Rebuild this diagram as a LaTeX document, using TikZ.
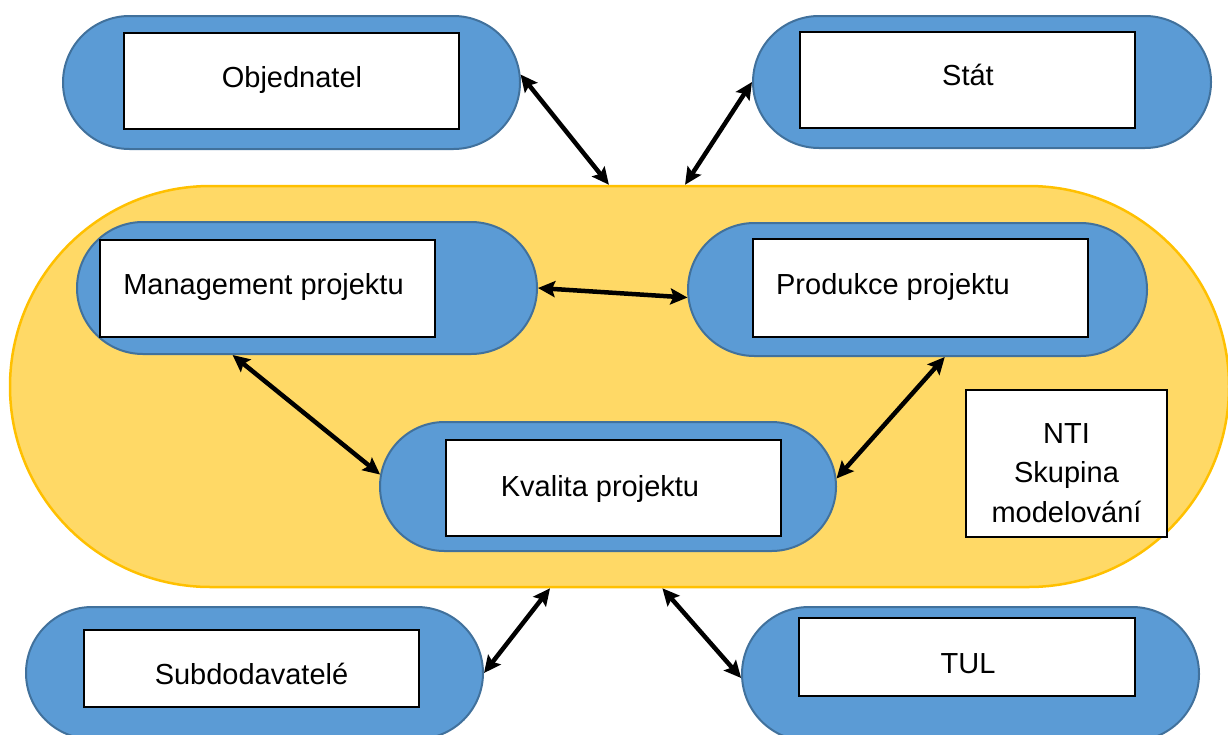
\documentclass[tikz,border=0pt]{standalone}
\usepackage{fontspec}
\setmainfont{Liberation Sans}
\usetikzlibrary{shapes.misc,arrows.meta}
\definecolor{pillblue}{HTML}{5B9BD5}
\definecolor{pilledge}{HTML}{41719C}
\definecolor{yfill}{HTML}{FFD966}
\definecolor{yedge}{HTML}{FFC000}
\begin{document}
\begin{tikzpicture}[x=1pt,y=-1pt,
  pill/.style={rounded rectangle, fill=pillblue, draw=pilledge, line width=2pt, inner sep=0pt},
  bigpill/.style={rounded rectangle, fill=yfill, draw=yedge, line width=2.5pt, inner sep=0pt},
  wbox/.style={rectangle, fill=white, draw=black, line width=2pt, inner sep=0pt},
  lbl/.style={font=\fontsize{29}{36}\selectfont, anchor=base, inner sep=0pt},
  link/.style={line width=4.5pt, {Stealth[length=17pt,width=16pt,inset=3pt]}-{Stealth[length=17pt,width=16pt,inset=3pt]}}]
\useasboundingbox (0,0) rectangle (1228,734);
% big team pill
\node[bigpill, minimum width=1219pt, minimum height=401pt] (team) at (619.5,386.5) {};
% outer pills
\node[pill, minimum width=457pt, minimum height=133pt] (obj) at (291.5,82.5) {};
\node[pill, minimum width=458pt, minimum height=132pt] (stat) at (982,82) {};
\node[pill, minimum width=457pt, minimum height=132pt] (sub) at (254.5,673) {};
\node[pill, minimum width=457pt, minimum height=134pt] (tul) at (970.5,674) {};
% inner pills
\node[pill, minimum width=460pt, minimum height=132pt] (mgmt) at (307,288) {};
\node[pill, minimum width=459pt, minimum height=133pt] (prod) at (917.5,289.5) {};
\node[pill, minimum width=456pt, minimum height=129pt] (kval) at (608,486.5) {};
% white boxes
\node[wbox, minimum width=335pt, minimum height=96pt] (objbox) at (291.5,81) {};
\node[wbox, minimum width=335pt, minimum height=96pt] (statbox) at (967.5,80) {};
\node[wbox, minimum width=335pt, minimum height=97pt] (mgmtbox) at (267.5,288.5) {};
\node[wbox, minimum width=335pt, minimum height=98pt] (prodbox) at (920.5,288) {};
\node[wbox, minimum width=335pt, minimum height=96pt] (kvalbox) at (613.5,488) {};
\node[wbox, minimum width=201pt, minimum height=147pt] (ntibox) at (1066.5,463.5) {};
\node[wbox, minimum width=335pt, minimum height=77pt] (subbox) at (251.5,668.5) {};
\node[wbox, minimum width=336pt, minimum height=78pt] (tulbox) at (967,657) {};
% labels
\node[lbl] (tobj) at (292,87) {Objednatel};
\node[lbl] (tstat) at (968,85) {Stát};
\node[lbl] (tmgmt) at (263.5,294) {Management projektu};
\node[lbl] (tprod) at (893,294) {Produkce projektu};
\node[lbl] (tkval) at (600,496) {Kvalita projektu};
\node[lbl] (tnti1) at (1066.5,443) {NTI};
\node[lbl] (tnti2) at (1066.5,482) {Skupina};
\node[lbl] (tnti3) at (1066.5,522) {modelování};
\node[lbl] (tsub) at (251.5,684) {Subdodavatelé};
\node[lbl] (ttul) at (968,673) {TUL};
% connectors
\draw[link] (obj.2) -- (team.93);
\draw[link] (team.72.3) -- (stat.west);
\draw[link] (mgmt.east) -- (prod.182);
\draw[link] (mgmt.222.5) -- (kval.177.6);
\draw[link] (prod.292) -- (kval.2.4);
\draw[link] (sub.east) -- (team.251.7);
\draw[link] (team.282.7) -- (tul.181);
\end{tikzpicture}
\end{document}
